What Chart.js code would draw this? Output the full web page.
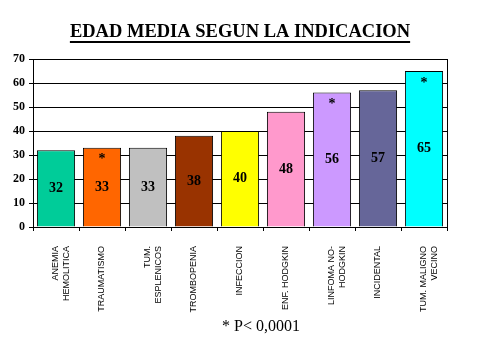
<!DOCTYPE html>
<html lang="es">
<head>
    <meta charset="UTF-8">
    <title>Edad media segun la indicacion</title>
    <script src="https://cdn.jsdelivr.net/npm/chart.js"></script>
    <style>
        body {
            margin: 0;
            padding: 0;
            background-color: #fff;
        }
        #edadChart {
            display: block;
        }
    </style>
</head>
<body>
    <canvas id="edadChart" width="480" height="360"></canvas>

    <script>
        // Datos
        const indicaciones = [
            ['ANEMIA', 'HEMOLITICA'],
            'TRAUMATISMO',
            ['TUM.', 'ESPLENICOS'],
            'TROMBOPENIA',
            'INFECCION',
            'ENF. HODGKIN',
            ['LINFOMA NO-', 'HODGKIN'],
            'INCIDENTAL',
            ['TUM. MALIGNO', 'VECINO']
        ];
        const edadMedia = [32, 33, 33, 38, 40, 48, 56, 57, 65];
        const significativo = [false, true, false, false, false, false, true, false, true];
        const coloresBarras = ['#00CC99', '#FF6600', '#C0C0C0', '#993300', '#FFFF00',
                               '#FF99CC', '#CC99FF', '#666699', '#00FFFF'];
        const tituloTexto = 'EDAD MEDIA SEGUN LA INDICACION';
        const notaTexto = '* P< 0,0001';

        const serif = "'Liberation Serif', 'Times New Roman', serif";
        const tituloSize = 18.5;

        // valores dentro de las barras, asteriscos, subrayado del titulo y nota
        const extrasPlugin = {
            id: 'extras',
            afterDatasetsDraw(chart) {
                const ctx = chart.ctx;
                const meta = chart.getDatasetMeta(0);
                ctx.save();
                ctx.fillStyle = '#000';
                ctx.textAlign = 'center';
                ctx.textBaseline = 'middle';
                ctx.font = 'bold 14px ' + serif;
                meta.data.forEach((bar, i) => {
                    ctx.fillText(edadMedia[i], bar.x, (bar.y + bar.base) / 2);
                    if (significativo[i]) {
                        ctx.fillText('*', bar.x, bar.y + 12);
                    }
                });
                ctx.restore();
            },
            afterDraw(chart) {
                const ctx = chart.ctx;
                const tb = chart.titleBlock;
                ctx.save();
                ctx.font = 'bold ' + tituloSize + 'px ' + serif;
                const w = ctx.measureText(tituloTexto).width;
                const cx = (tb.left + tb.right) / 2;
                ctx.strokeStyle = '#000';
                ctx.lineWidth = 2;
                ctx.beginPath();
                ctx.moveTo(cx - w / 2, 42);
                ctx.lineTo(cx + w / 2, 42);
                ctx.stroke();

                ctx.fillStyle = '#000';
                ctx.font = '16px ' + serif;
                ctx.textAlign = 'center';
                ctx.textBaseline = 'middle';
                ctx.fillText(notaTexto, 261, 327);
                ctx.restore();
            }
        };

        const config = {
            type: 'bar',
            data: {
                labels: indicaciones,
                datasets: [{
                    data: edadMedia,
                    backgroundColor: coloresBarras,
                    borderColor: '#000',
                    borderWidth: 1,
                    barPercentage: 0.83,
                    categoryPercentage: 1.0
                }]
            },
            options: {
                responsive: false,
                animation: false,
                layout: {
                    padding: { top: 21, left: 0, right: 0, bottom: 43 }
                },
                plugins: {
                    legend: { display: false },
                    tooltip: { enabled: false },
                    title: {
                        display: true,
                        text: tituloTexto,
                        color: '#000',
                        font: { family: serif, size: tituloSize, weight: 'bold' },
                        padding: { top: 0, bottom: 15.8 }
                    }
                },
                scales: {
                    x: {
                        grid: {
                            offset: true,
                            drawOnChartArea: false,
                            color: '#000',
                            tickLength: 4
                        },
                        border: { color: '#000' },
                        ticks: {
                            minRotation: 90,
                            maxRotation: 90,
                            padding: 15,
                            color: '#000',
                            font: { family: "'Liberation Sans', Arial, sans-serif", size: 9 }
                        },
                        afterFit(scale) {
                            scale.height = 90;
                        }
                    },
                    y: {
                        min: 0,
                        max: 70,
                        grid: {
                            color: '#000',
                            tickLength: 4
                        },
                        border: { color: '#000' },
                        ticks: {
                            stepSize: 10,
                            padding: 4,
                            color: '#000',
                            font: { family: serif, size: 12, weight: 'bold' }
                        },
                        afterFit(scale) {
                            scale.width = 33;
                        }
                    },
                    // eje vacio a la derecha: solo la linea del borde
                    derecha: {
                        type: 'linear',
                        position: 'right',
                        min: 0,
                        max: 70,
                        grid: { display: false },
                        ticks: { display: false },
                        border: { display: true, color: '#000' },
                        afterFit(scale) {
                            scale.width = 33;
                        }
                    }
                }
            },
            plugins: [extrasPlugin]
        };

        var edadChart = new Chart(document.getElementById('edadChart'), config);
    </script>
</body>
</html>
